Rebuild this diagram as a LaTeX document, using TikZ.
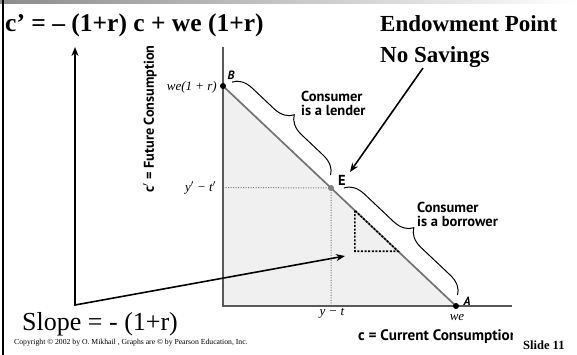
\documentclass[tikz,border=0pt]{standalone}
\usepackage{fontspec}
\setmainfont{Liberation Serif}
\newfontfamily\gsans{PT Sans}
\usetikzlibrary{decorations.pathreplacing,arrows.meta,calc}
\tikzset{
  axisline/.style={draw=black!65, line width=1.3pt},
  budget/.style={draw=black!55, line width=1.7pt},
  guide/.style={draw=black!55, line width=1pt, dash pattern=on 1pt off 1.5pt},
  slopetri/.style={draw=black, line width=1.6pt, dash pattern=on 2pt off 1.6pt},
  bracestyle/.style={draw=black, line width=1pt, decorate, decoration={brace, amplitude=19pt, raise=9pt}},
  pointer/.style={draw=black, line width=1.6pt, -{Stealth[length=9pt,width=7pt]}},
  bigtxt/.style={inner sep=0pt, font=\fontsize{26}{30}\selectfont},
  headtxt/.style={inner sep=0pt, font=\bfseries\fontsize{23}{30}\selectfont},
  grtxt/.style={inner sep=0pt, font=\gsans\bfseries\fontsize{14.5}{14}\selectfont, align=left},
  axtxt/.style={inner sep=0pt, font=\gsans\bfseries\fontsize{14.2}{16}\selectfont},
  itxt/.style={inner sep=0pt, font=\itshape\fontsize{13}{14}\selectfont},
}
\begin{document}
\begin{tikzpicture}[x=1pt,y=-1pt]
\useasboundingbox (0,0) rectangle (577,355);
% slide frame
\shade[left color=black!45, right color=white] (0,0) rectangle (577,3.5);
\draw[line width=2pt] (2.5,0) -- (2.5,355);

% graph geometry
\coordinate (O) at (223,306);
\coordinate (B) at (223,86);
\coordinate (A) at (456,306);
\coordinate (E) at ($(B)!0.4635!(A)$);
\coordinate (ytop) at (223,47);
\coordinate (xend) at (512,306);
\coordinate (yE) at (223,187.5);
\coordinate (xE) at (331,306);
\coordinate (T1) at ($(B)!0.566!(A)$);
\coordinate (T3) at ($(B)!0.751!(A)$);
\coordinate (T2) at (T1 |- T3);
\coordinate (b1s) at ($(B)!0.012!(A)$);
\coordinate (b1e) at ($(B)!0.437!(A)$);
\coordinate (b2s) at ($(B)!0.493!(A)$);
\coordinate (b2e) at ($(B)!0.98!(A)$);

\fill[black!6] (O) -- (B) -- (A) -- cycle;
\draw[guide] (yE) -- (E) -- (xE);
\draw[axisline] (ytop) -- (O) -- (xend);
\draw[budget] (B) -- (A);
\draw[slopetri] (T1) -- (T2) -- (T3) -- cycle;
\fill[black] (B) circle (3);
\fill[black] (A) circle (3);
\fill[black!50] (E) circle (3);

\draw[bracestyle] (b1s) -- (b1e);
\draw[bracestyle] (b2s) -- (b2e);

% graph labels
\node[grtxt, anchor=west] (lender) at (301,103) {Consumer\\is a lender};
\node[grtxt, anchor=west] (borrower) at (417,214) {Consumer\\is a borrower};
\node[grtxt] (Elab) at (342,180) {E};
\node[itxt, font=\gsans\itshape\bfseries\fontsize{12}{14}\selectfont] (Blab) at (231,75) {B};
\node[itxt, font=\gsans\itshape\bfseries\fontsize{12}{14}\selectfont] (Alab) at (467,301) {A};
\node[itxt, anchor=east] (welab) at (217,87) {we(1 + r)};
\node[itxt, anchor=east] (ytlab) at (216,188) {\textit{y}$'$ − \textit{t}$'$};
\node[itxt] (ylab) at (332,313) {y − t};
\node[itxt] (welab2) at (457,317) {we};
\node[axtxt, rotate=90] (ylabel) at (150,119) {c$'$ = Future Consumption};
\begin{scope}
\clip (0,0) rectangle (512,355);
\node[axtxt, font=\gsans\bfseries\fontsize{15.2}{16}\selectfont, anchor=west] (xlabel) at (358,337) {c = Current Consumption};
\end{scope}

% slide texts
\node[bigtxt, font=\bfseries\fontsize{25.5}{30}\selectfont, anchor=base west] (title) at (5,32) {c’ = – (1+r) c + we (1+r)};
\node[headtxt, anchor=base west] (endow) at (380,32) {Endowment Point};
\node[headtxt, anchor=base west] (nosave) at (380,63) {No Savings};
\node[bigtxt, anchor=base west] (slope) at (22,330) {Slope = - (1+r)};
\node[inner sep=0pt, font=\bfseries\fontsize{12.5}{14}\selectfont, anchor=base west] (slide) at (523,349) {Slide 11};
\node[inner sep=0pt, font=\fontsize{7.7}{8}\selectfont, anchor=base west] (copy) at (14,344) {Copyright © 2002 by O. Mikhail , Graphs are © by Pearson Education, Inc.};

% pointers
\coordinate (etail) at (423,68);
\coordinate (etip) at (350,172);
\draw[pointer] (etail) -- (etip);
\coordinate (vtip) at (75,47);
\coordinate (corner) at (75,305);
\coordinate (stip) at (345,256);
\draw[pointer, {Stealth[length=9pt,width=7pt]}-{Stealth[length=9pt,width=7pt]}] (vtip) -- (corner) -- (stip);
\end{tikzpicture}
\end{document}
